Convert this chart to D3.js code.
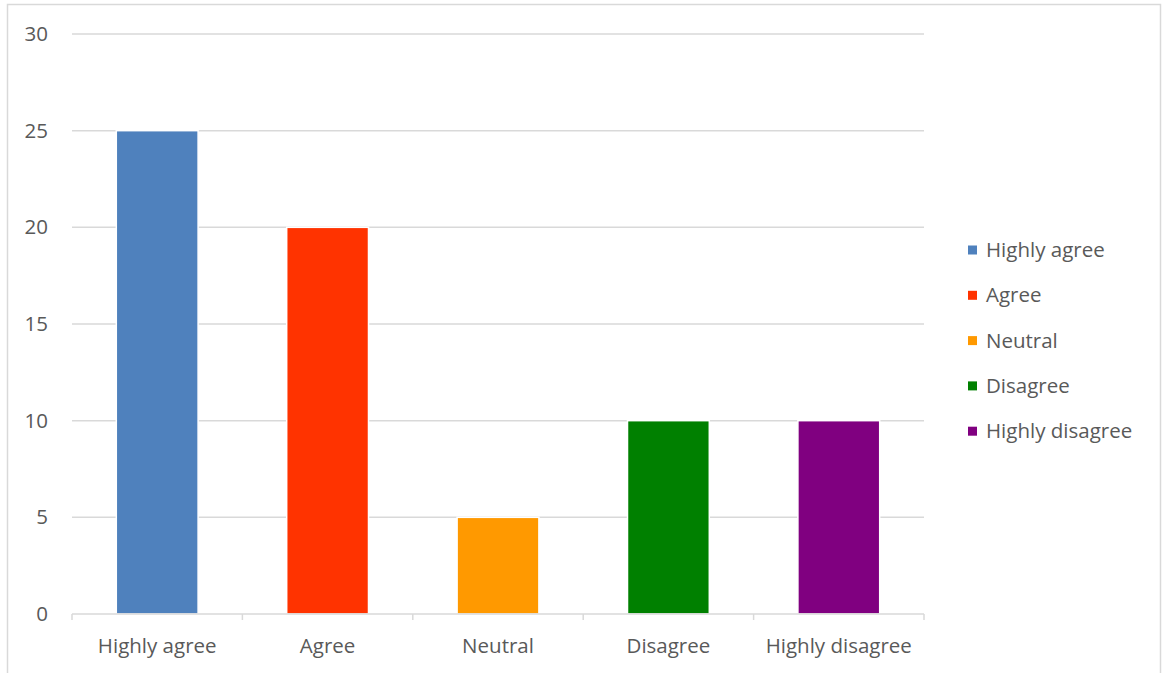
<!DOCTYPE html>
<html><head><meta charset="utf-8">
<script src="https://cdn.jsdelivr.net/npm/d3@7"></script>
<style>body{margin:0;background:#fff;font-family:"Open Sans",sans-serif;}</style>
</head><body><svg id="c" width="1167" height="673"></svg>
<script>
const categories = ["Highly agree","Agree","Neutral","Disagree","Highly disagree"];
const values = [25,20,5,10,10];
const colors = ["#4f81bd","#ff3300","#ff9900","#008000","#800080"];
const yTicks = [0,5,10,15,20,25,30];

const svg = d3.select("#c");
svg.append("rect").attr("x",7.5).attr("y",4.5).attr("width",1153).attr("height",700)
  .attr("fill","#fff").attr("stroke","#d9d9d9").attr("stroke-width",1.5);

const m={l:72,r:924,t:34,b:614};
const x=d3.scaleBand().domain(categories).range([m.l,m.r]).paddingInner(0.52).paddingOuter(0.26);
const y=d3.scaleLinear().domain([0,30]).range([m.b,m.t]);
const txt="#595959", fs="20.5px";

svg.append("g").selectAll("line").data(yTicks.filter(d=>d>0)).join("line")
  .attr("x1",m.l).attr("x2",m.r).attr("y1",d=>y(d)).attr("y2",d=>y(d))
  .attr("stroke","#d9d9d9").attr("stroke-width",1.5);

const ya=svg.append("g").attr("transform",`translate(${m.l},0)`)
  .call(d3.axisLeft(y).tickValues(yTicks).tickSize(0).tickPadding(24));
ya.select(".domain").remove();
ya.selectAll("text").attr("fill",txt).style("font-size",fs).style("font-family","Open Sans");

svg.append("g").selectAll("rect").data(values).join("rect")
  .attr("x",(d,i)=>x(categories[i])).attr("width",x.bandwidth())
  .attr("y",d=>y(d)).attr("height",d=>y(0)-y(d))
  .attr("fill",(d,i)=>colors[i]).attr("stroke","#fff").attr("stroke-width",1.5);

const xb=d3.scaleLinear().domain([0,categories.length]).range([m.l,m.r]);
const xa=svg.append("g").attr("transform",`translate(0,${m.b})`);
xa.append("line").attr("x1",m.l).attr("x2",m.r).attr("stroke","#d9d9d9").attr("stroke-width",1.5);
xa.selectAll("line.t").data(d3.range(categories.length+1)).join("line").attr("class","t")
  .attr("x1",d=>xb(d)).attr("x2",d=>xb(d)).attr("y1",0).attr("y2",6)
  .attr("stroke","#d9d9d9").attr("stroke-width",1.5);
xa.selectAll("text").data(categories).join("text")
  .attr("x",d=>x(d)+x.bandwidth()/2).attr("y",39).attr("text-anchor","middle")
  .attr("fill",txt).style("font-size",fs).text(d=>d);

const lg=svg.append("g").attr("transform","translate(968,250)");
const row=lg.selectAll("g").data(categories).join("g").attr("transform",(d,i)=>`translate(0,${i*45.3})`);
row.append("rect").attr("x",0).attr("y",-4.5).attr("width",9).attr("height",9).attr("fill",(d,i)=>colors[i]);
row.append("text").attr("x",18).attr("y",0).attr("dy","0.35em").attr("fill",txt).style("font-size",fs).text(d=>d);
</script></body></html>
